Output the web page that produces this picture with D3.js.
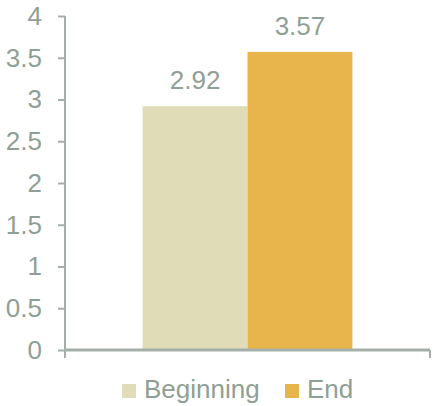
<!DOCTYPE html>
<html>
<head>
<meta charset="utf-8">
<script src="https://cdn.jsdelivr.net/npm/d3@7"></script>
<style>
  html, body { margin: 0; padding: 0; background: #fff; }
  svg { display: block; font-family: "Liberation Sans", Arial, sans-serif; }
</style>
</head>
<body>
<svg id="chart" width="433" height="406"></svg>
<script>
// Series and axis values
const categories = [""];
const seriesNames = ["Beginning", "End"];
const beginningValues = [2.92];
const endValues = [3.57];
const yTicks = [0, 0.5, 1, 1.5, 2, 2.5, 3, 3.5, 4];
const colors = ["#e0dcb8", "#e8b54c"];

const textColor = "#909f96";
const axisColor = "#a3afa8";
const fontSize = 26;

const svg = d3.select("#chart");
const margin = { left: 65, right: 3, top: 16, bottom: 56 };
const width = 433, height = 406;

const x = d3.scaleBand()
  .domain(categories)
  .range([margin.left, width - margin.right])
  .paddingInner(0).paddingOuter(0);

const x1 = d3.scaleBand()
  .domain(seriesNames)
  .range([0, x.bandwidth()])
  .paddingOuter(0.74).paddingInner(0);

const y = d3.scaleLinear()
  .domain([0, 4])
  .range([height - margin.bottom, margin.top]);

const rows = categories.map((c, i) => ({
  category: c,
  values: [
    { name: seriesNames[0], value: beginningValues[i], color: colors[0] },
    { name: seriesNames[1], value: endValues[i], color: colors[1] }
  ]
}));

// Bars
const groups = svg.selectAll("g.group")
  .data(rows).enter().append("g")
  .attr("class", "group")
  .attr("transform", d => `translate(${x(d.category)},0)`);

groups.selectAll("rect")
  .data(d => d.values).enter().append("rect")
  .attr("x", d => x1(d.name))
  .attr("y", d => y(d.value))
  .attr("width", x1.bandwidth())
  .attr("height", d => y(0) - y(d.value))
  .attr("fill", d => d.color);

// Value labels
groups.selectAll("text.value")
  .data(d => d.values).enter().append("text")
  .attr("class", "value")
  .attr("x", d => x1(d.name) + x1.bandwidth() / 2)
  .attr("y", d => y(d.value) - 17)
  .attr("text-anchor", "middle")
  .attr("fill", textColor)
  .attr("font-size", fontSize)
  .text(d => d.value.toFixed(2));

// Y axis
const yAxis = svg.append("g")
  .attr("transform", `translate(${margin.left},0)`)
  .call(d3.axisLeft(y).tickValues(yTicks).tickSize(7).tickPadding(16)
    .tickFormat(d => String(d)));
yAxis.select(".domain").attr("stroke", axisColor).attr("stroke-width", 2)
  .attr("d", `M0,${y(4)}V${y(0)}`);
yAxis.selectAll(".tick line").attr("stroke", axisColor).attr("stroke-width", 2);
yAxis.selectAll(".tick text")
  .attr("fill", textColor)
  .attr("font-size", fontSize)
  .attr("font-family", "'Liberation Sans', Arial, sans-serif");

// X axis with category boundary ticks
const xAxis = svg.append("g")
  .attr("transform", `translate(0,${y(0)})`);
xAxis.append("line")
  .attr("x1", margin.left).attr("x2", width - margin.right)
  .attr("stroke", axisColor).attr("stroke-width", 3);
const boundaries = [x.range()[0], x.range()[1]];
xAxis.selectAll("line.bound")
  .data(boundaries).enter().append("line")
  .attr("class", "bound")
  .attr("x1", d => d).attr("x2", d => d)
  .attr("y1", 0).attr("y2", 8)
  .attr("stroke", axisColor).attr("stroke-width", 2);

// Legend
const legendItems = [
  { name: seriesNames[0], color: colors[0], x: 122 },
  { name: seriesNames[1], color: colors[1], x: 285 }
];
const legend = svg.append("g");
const li = legend.selectAll("g").data(legendItems).enter().append("g")
  .attr("transform", d => `translate(${d.x},384)`);
li.append("rect").attr("width", 14).attr("height", 14).attr("fill", d => d.color);
li.append("text")
  .attr("x", 22).attr("y", 14)
  .attr("fill", textColor)
  .attr("font-size", fontSize)
  .text(d => d.name);
</script>
</body>
</html>
